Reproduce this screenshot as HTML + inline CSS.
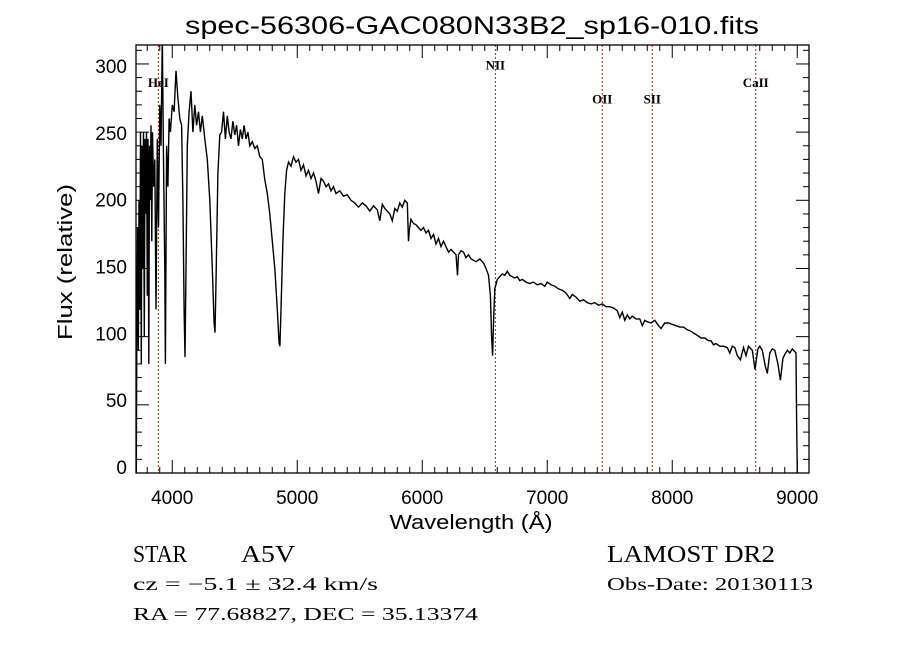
<!DOCTYPE html>
<html><head><meta charset="utf-8"><style>
html,body{margin:0;padding:0;background:#fff;}
svg{display:block;}
text{fill:#000;}
</style></head><body>
<svg id="chart" width="900" height="649" viewBox="0 0 900 649" xmlns="http://www.w3.org/2000/svg">
<rect width="900" height="649" fill="#fff"/>
<text x="472" y="34" font-family="Liberation Sans, sans-serif" font-size="25" text-anchor="middle" textLength="574" lengthAdjust="spacingAndGlyphs">spec-56306-GAC080N33B2_sp16-010.fits</text>
<g id="lines"></g>
<g id="plot"></g>
<g id="axes"></g>
<text x="471" y="529" font-family="Liberation Sans, sans-serif" font-size="20" text-anchor="middle" textLength="163" lengthAdjust="spacingAndGlyphs">Wavelength (Å)</text>
<text transform="translate(72,262) rotate(-90)" font-family="Liberation Sans, sans-serif" font-size="20" text-anchor="middle" textLength="156" lengthAdjust="spacingAndGlyphs">Flux (relative)</text>
<text x="133" y="562" font-family="Liberation Serif, serif" font-size="24" textLength="54" lengthAdjust="spacingAndGlyphs">STAR</text>
<text x="241" y="562" font-family="Liberation Serif, serif" font-size="24" textLength="54" lengthAdjust="spacingAndGlyphs">A5V</text>
<text x="607" y="562" font-family="Liberation Serif, serif" font-size="24" textLength="168" lengthAdjust="spacingAndGlyphs">LAMOST DR2</text>
<text x="133" y="590" font-family="Liberation Serif, serif" font-size="18" textLength="245" lengthAdjust="spacingAndGlyphs">cz = −5.1 ± 32.4 km/s</text>
<text x="607" y="590" font-family="Liberation Serif, serif" font-size="18" textLength="206" lengthAdjust="spacingAndGlyphs">Obs-Date: 20130113</text>
<text x="133" y="620" font-family="Liberation Serif, serif" font-size="18" textLength="345" lengthAdjust="spacingAndGlyphs">RA =  77.68827, DEC =  35.13374</text>
</svg>
<script>
const wavelengths = [3710,3712,3716,3722,3728,3734,3740,3746,3752,3758,3764,3770,3776,3782,3788,3794,3800,3806,3812,3818,3824,3830,3836,3842,3850,3860,3870,3880,3890,3900,3910,3920,3930,3940,3945,3955,3965,3975,3985,4000,4015,4030,4045,4060,4075,4085,4095,4102,4110,4120,4135,4150,4165,4180,4195,4210,4225,4240,4260,4280,4300,4320,4335,4342,4350,4365,4380,4395,4410,4425,4440,4455,4470,4485,4500,4515,4530,4545,4560,4575,4590,4605,4620,4640,4660,4680,4700,4720,4740,4760,4780,4800,4820,4840,4855,4861,4870,4885,4900,4915,4930,4950,4970,4990,5010,5030,5050,5070,5090,5110,5130,5150,5170,5190,5210,5230,5250,5270,5290,5310,5340,5370,5400,5430,5460,5490,5520,5550,5580,5610,5640,5660,5680,5700,5720,5740,5760,5780,5800,5820,5840,5860,5880,5890,5896,5910,5930,5950,5970,5990,6010,6030,6050,6070,6090,6110,6130,6150,6170,6190,6210,6230,6250,6270,6282,6290,6310,6330,6350,6370,6390,6410,6430,6460,6490,6510,6530,6545,6555,6563,6570,6580,6600,6620,6640,6660,6680,6700,6720,6740,6760,6780,6800,6830,6860,6890,6920,6950,6980,7000,7030,7060,7090,7120,7150,7180,7200,7230,7260,7290,7320,7350,7380,7410,7440,7470,7500,7530,7560,7580,7600,7620,7640,7660,7680,7710,7740,7760,7780,7800,7830,7860,7890,7910,7940,7970,8000,8030,8060,8090,8120,8150,8180,8200,8230,8260,8290,8310,8330,8350,8380,8410,8440,8460,8480,8500,8520,8545,8570,8590,8610,8640,8662,8685,8700,8720,8745,8760,8780,8800,8820,8845,8865,8885,8900,8920,8940,8960,8980,8990,8995,9000];
const fluxValues = [0,0,100,180,90,200,120,250,80,240,150,250,100,245,190,250,130,245,80,240,200,255,170,250,210,230,120,245,180,270,240,320,230,150,80,240,210,260,250,270,265,295,275,260,255,200,120,85,150,240,265,280,250,270,255,265,250,262,245,230,200,150,110,103,140,220,248,250,265,245,262,250,245,258,248,255,240,252,245,255,245,250,240,243,238,240,232,230,215,205,190,170,150,120,95,93,120,170,205,222,228,225,232,228,230,222,226,218,222,216,220,214,205,216,214,210,212,207,210,205,207,203,204,200,198,195,198,196,192,196,193,185,197,194,192,190,185,194,192,198,195,200,198,170,178,186,183,182,180,178,180,176,178,172,175,168,172,166,170,166,162,164,162,160,145,160,163,162,158,160,157,156,155,157,154,150,145,130,100,86,110,135,142,144,146,145,148,145,144,143,144,141,142,140,139,140,138,139,137,140,138,137,135,134,132,128,131,129,126,127,125,124,125,123,124,122,122,121,119,114,118,112,116,113,115,113,113,108,112,111,110,112,108,106,110,110,109,108,107,107,105,104,102,101,99,99,97,97,94,95,93,93,92,88,93,92,86,83,92,86,93,90,76,91,93,90,78,73,88,91,90,80,68,84,87,90,88,91,89,88,40,0];
const xTickValues = [4000,5000,6000,7000,8000,9000];
const yTickValues = [0,50,100,150,200,250,300];
const lineNames = ["HeI","NII","OII","SII","CaII"];
const lineWavelengths = [3889,6585,7440,7840,8668];
const lineLabelFlux = [286,299,274,274,286];

const svg = document.getElementById('chart');
const NS = 'http://www.w3.org/2000/svg';
const L = 136, R = 809, T = 45, B = 473;
const xMin = 3710, xMax = 9094, yMin = 0, yMax = 313.9;
function xs(v){ return L + (v - xMin) / (xMax - xMin) * (R - L); }
function ys(v){ return B - (v - yMin) / (yMax - yMin) * (B - T); }
function mk(tag, attrs, parent){ const e = document.createElementNS(NS, tag); for (const k in attrs) e.setAttribute(k, attrs[k]); parent.appendChild(e); return e; }

const defs = mk('defs', {}, svg);
const cp = mk('clipPath', {id:'clip'}, defs);
mk('rect', {x:L, y:T, width:R-L, height:B-T}, cp);

const lg = document.getElementById('lines');
lineNames.forEach((n, i) => {
  const x = xs(lineWavelengths[i]);
  const ln = mk('line', {x1:x, x2:x, y1:T, y2:B, stroke:'#9a2a2a', 'stroke-width':1, 'stroke-dasharray':'2,2'}, lg);
  
  
  const t = mk('text', {x:x, y:ys(lineLabelFlux[i]) + 4, 'font-family':'Liberation Serif, serif', 'font-size':13, 'font-weight':'bold', 'text-anchor':'middle'}, lg);
  t.textContent = n;
  
  
});

const pg = document.getElementById('plot');
const pts = wavelengths.map((w, i) => xs(w).toFixed(1) + ',' + ys(fluxValues[i]).toFixed(1)).join(' ');
const pl = mk('polyline', {points:pts, fill:'none', stroke:'#000', 'stroke-width':1.4, 'clip-path':'url(#clip)'}, pg);



const ag = document.getElementById('axes');
const frame = mk('rect', {x:L, y:T, width:R-L, height:B-T, fill:'none', stroke:'#000', 'stroke-width':1.3}, ag);


for (let v = 3800; v <= 9000; v += 100) {
  const x = xs(v); const major = v % 1000 === 0; const len = major ? 13 : 6;
  mk('line', {x1:x, x2:x, y1:B, y2:B-len, stroke:'#000', 'stroke-width':1}, ag);
  mk('line', {x1:x, x2:x, y1:T, y2:T+len, stroke:'#000', 'stroke-width':1}, ag);
}
for (let v = 0; v <= 310; v += 10) {
  const y = ys(v); const major = v % 50 === 0; const len = major ? 13 : 6;
  mk('line', {x1:L, x2:L+len, y1:y, y2:y, stroke:'#000', 'stroke-width':1}, ag);
  mk('line', {x1:R, x2:R-len, y1:y, y2:y, stroke:'#000', 'stroke-width':1}, ag);
}
xTickValues.forEach(v => {
  const t = mk('text', {x:xs(v), y:504, 'font-family':'Liberation Sans, sans-serif', 'font-size':19, 'text-anchor':'middle'}, ag);
  t.textContent = v;
  
  
});
yTickValues.forEach(v => {
  const t = mk('text', {x:127, y:ys(v) + 1 + 8 * v / 300, 'font-family':'Liberation Sans, sans-serif', 'font-size':19, 'text-anchor':'end'}, ag);
  t.textContent = v;
  
  
});
</script>
</body></html>
